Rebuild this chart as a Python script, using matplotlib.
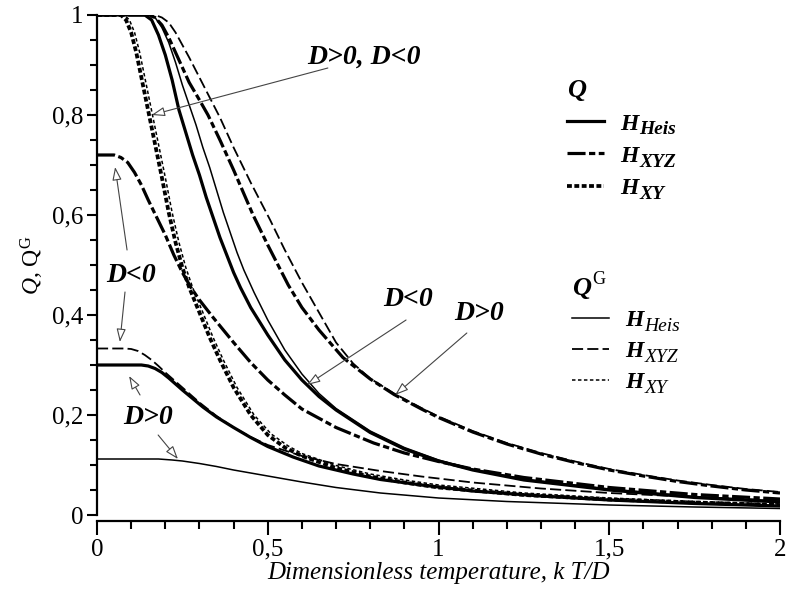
import numpy as np
import matplotlib
matplotlib.use('Agg')
import matplotlib.pyplot as plt
from matplotlib.lines import Line2D
from matplotlib.font_manager import FontProperties
from matplotlib.ticker import MultipleLocator, FuncFormatter

plt.rcParams['font.family'] = ['Liberation Serif', 'DejaVu Serif']
plt.rcParams['mathtext.fontset'] = 'custom'
plt.rcParams['mathtext.rm'] = 'Liberation Serif'
plt.rcParams['mathtext.it'] = 'Liberation Serif:italic'
plt.rcParams['lines.scale_dashes'] = False

# ---- data (x = kT/D) ----
# Heisenberg, D<0 : Q and Q^G both start at 1
heis_neg_q_x = [0, 0.14, 0.16, 0.18, 0.2, 0.22, 0.24, 0.26, 0.28, 0.3, 0.32, 0.34, 0.36, 0.38, 0.4, 0.42, 0.45, 0.5,
                0.55, 0.6, 0.65, 0.7, 0.8, 0.9, 1.0, 1.1, 1.25, 1.5, 1.75, 2.0]
heis_neg_q_y = [1, 1, 0.99, 0.96, 0.92, 0.87, 0.81, 0.765, 0.72, 0.68, 0.635, 0.595, 0.555, 0.52, 0.485, 0.455, 0.415,
                0.36, 0.31, 0.27, 0.237, 0.21, 0.165, 0.132, 0.108, 0.09, 0.07, 0.05, 0.035, 0.026]
heis_neg_qg_x = [0, 0.15, 0.17, 0.19, 0.21, 0.23, 0.25, 0.27, 0.29, 0.31, 0.33, 0.35, 0.37, 0.39, 0.41, 0.43, 0.46,
                 0.5, 0.55, 0.6, 0.65, 0.7, 0.8, 0.9, 1.0, 1.1, 1.25, 1.5, 1.75, 2.0]
heis_neg_qg_y = [1, 1, 0.995, 0.975, 0.945, 0.905, 0.86, 0.82, 0.78, 0.735, 0.695, 0.65, 0.605, 0.565, 0.525, 0.49,
                 0.445, 0.39, 0.33, 0.282, 0.243, 0.213, 0.168, 0.135, 0.11, 0.092, 0.072, 0.052, 0.037, 0.028]
# Heisenberg, D>0
heis_pos_q_x = [0, 0.13, 0.15, 0.17, 0.19, 0.21, 0.23, 0.25, 0.28, 0.31, 0.35, 0.4, 0.45, 0.5, 0.574, 0.65, 0.75,
                0.83, 0.95, 1.1, 1.3, 1.5, 1.75, 2.0]
heis_pos_q_y = [0.3, 0.3, 0.298, 0.293, 0.285, 0.274, 0.262, 0.25, 0.233, 0.216, 0.196, 0.175, 0.155, 0.137, 0.116,
                0.098, 0.082, 0.071, 0.06, 0.048, 0.038, 0.03, 0.023, 0.018]
heis_pos_qg_x = [0, 0.18, 0.22, 0.25, 0.3, 0.35, 0.4, 0.5, 0.6, 0.7, 0.83, 1.0, 1.2, 1.5, 1.75, 2.0]
heis_pos_qg_y = [0.112, 0.112, 0.11, 0.108, 0.103, 0.097, 0.09, 0.078, 0.066, 0.055, 0.044, 0.034, 0.027, 0.02,
                 0.016, 0.013]

# XYZ, D>0 : both start at 1
xyz_pos_q_x = [0, 0.15, 0.17, 0.19, 0.21, 0.23, 0.25, 0.27, 0.3, 0.325, 0.36, 0.4, 0.457, 0.5, 0.56, 0.6, 0.65,
               0.72, 0.8, 0.87, 0.95, 1.0, 1.1, 1.2, 1.3, 1.4, 1.5, 1.6, 1.7, 1.8, 1.9, 2.0]
xyz_pos_q_y = [1, 1, 0.995, 0.98, 0.955, 0.925, 0.895, 0.865, 0.83, 0.8, 0.75, 0.69, 0.6, 0.54, 0.46, 0.415, 0.37,
               0.315, 0.272, 0.241, 0.212, 0.195, 0.166, 0.142, 0.122, 0.105, 0.09, 0.078, 0.067, 0.058, 0.05, 0.044]
xyz_pos_qg_x = [0, 0.17, 0.19, 0.21, 0.23, 0.25, 0.27, 0.3, 0.33, 0.36, 0.4, 0.45, 0.507, 0.55, 0.6, 0.65, 0.7,
                0.75, 0.8, 0.87, 0.95, 1.0, 1.1, 1.2, 1.3, 1.4, 1.5, 1.6, 1.7, 1.8, 1.9, 2.0]
xyz_pos_qg_y = [1, 1, 0.995, 0.985, 0.965, 0.94, 0.915, 0.875, 0.835, 0.795, 0.735, 0.665, 0.59, 0.53, 0.465, 0.405,
                0.345, 0.303, 0.273, 0.243, 0.214, 0.197, 0.168, 0.144, 0.124, 0.107, 0.092, 0.08, 0.069, 0.06,
                0.052, 0.046]
# XYZ, D<0
xyz_neg_q_x = [0, 0.05, 0.07, 0.09, 0.11, 0.13, 0.15, 0.175, 0.2, 0.225, 0.25, 0.275, 0.3, 0.34, 0.4, 0.45, 0.5,
               0.55, 0.6, 0.7, 0.81, 0.9, 1.0, 1.1, 1.25, 1.5, 1.75, 2.0]
xyz_neg_q_y = [0.72, 0.72, 0.715, 0.705, 0.685, 0.66, 0.63, 0.595, 0.56, 0.52, 0.485, 0.455, 0.43, 0.395, 0.345,
               0.305, 0.27, 0.24, 0.212, 0.175, 0.144, 0.124, 0.107, 0.092, 0.075, 0.055, 0.041, 0.032]
xyz_neg_qg_x = [0, 0.08, 0.1, 0.12, 0.14, 0.16, 0.18, 0.2, 0.25, 0.3, 0.35, 0.4, 0.45, 0.5, 0.6, 0.7, 0.83, 0.95,
                1.1, 1.3, 1.5, 1.75, 2.0]
xyz_neg_qg_y = [0.333, 0.333, 0.332, 0.328, 0.32, 0.31, 0.298, 0.285, 0.255, 0.225, 0.198, 0.175, 0.156, 0.14, 0.118,
                0.102, 0.088, 0.077, 0.065, 0.053, 0.044, 0.036, 0.029]

# XY (D>0 and D<0 coincide)
xy_q_x = [0, 0.07, 0.085, 0.1, 0.115, 0.13, 0.145, 0.16, 0.175, 0.19, 0.21, 0.23, 0.25, 0.27, 0.3, 0.33, 0.36, 0.4,
          0.45, 0.5, 0.55, 0.6, 0.7, 0.8, 0.9, 1.0, 1.25, 1.5, 1.75, 2.0]
xy_q_y = [1, 1, 0.99, 0.965, 0.925, 0.875, 0.825, 0.775, 0.725, 0.675, 0.605, 0.545, 0.495, 0.455, 0.405, 0.355,
          0.31, 0.255, 0.2, 0.16, 0.135, 0.118, 0.094, 0.077, 0.065, 0.055, 0.04, 0.031, 0.025, 0.02]
xy_qg_x = [0, 0.08, 0.095, 0.11, 0.125, 0.14, 0.155, 0.17, 0.185, 0.2, 0.22, 0.24, 0.26, 0.28, 0.31, 0.34, 0.37,
           0.41, 0.46, 0.51, 0.56, 0.6, 0.7, 0.8, 0.9, 1.0, 1.25, 1.5, 1.75, 2.0]
xy_qg_y = [1, 1, 0.99, 0.965, 0.925, 0.875, 0.825, 0.775, 0.725, 0.675, 0.605, 0.545, 0.495, 0.455, 0.405, 0.355,
           0.31, 0.255, 0.2, 0.162, 0.138, 0.123, 0.099, 0.082, 0.07, 0.06, 0.044, 0.034, 0.027, 0.022]

# ---- styles ----
thick = 2.3
thin = 1.1
st_heis_q = dict(color='black', lw=thick, ls='-')
st_xyz_q = dict(color='black', lw=thick, ls=(0, (13, 2.5, 4.5, 2.5)))
st_xy_q = dict(color='black', lw=thick + 0.4, ls=(0, (3.5, 1.8)))
st_heis_qg = dict(color='black', lw=thin, ls='-')
st_xyz_qg = dict(color='black', lw=thin + 0.2, ls=(0, (8, 3)))
st_xy_qg = dict(color='black', lw=thin, ls=(0, (2.5, 1.8)))

W, H = 786, 596
fig = plt.figure(figsize=(W / 100, H / 100), dpi=100)
ax = fig.add_axes([97 / W, 1 - 515 / H, (780 - 97) / W, 500 / H])

ax.plot(xy_q_x, xy_q_y, **st_xy_q)
ax.plot(xy_qg_x, xy_qg_y, **st_xy_qg)
ax.plot(heis_neg_q_x, heis_neg_q_y, **st_heis_q)
ax.plot(heis_neg_qg_x, heis_neg_qg_y, **st_heis_qg)
ax.plot(heis_pos_q_x, heis_pos_q_y, **st_heis_q)
ax.plot(heis_pos_qg_x, heis_pos_qg_y, **st_heis_qg)
ax.plot(xyz_pos_q_x, xyz_pos_q_y, **st_xyz_q)
ax.plot(xyz_pos_qg_x, xyz_pos_qg_y, **st_xyz_qg)
ax.plot(xyz_neg_q_x, xyz_neg_q_y, **st_xyz_q)
ax.plot(xyz_neg_qg_x, xyz_neg_qg_y, **st_xyz_qg)

ax.set_xlim(0, 2)
ax.set_ylim(0, 1)
for s in ['top', 'right']:
    ax.spines[s].set_visible(False)
ax.spines['bottom'].set_position(('outward', 4))
ax.spines['left'].set_linewidth(1.6)
ax.spines['bottom'].set_linewidth(1.6)

ax.xaxis.set_major_locator(MultipleLocator(0.5))
ax.xaxis.set_minor_locator(MultipleLocator(0.1))
ax.yaxis.set_major_locator(MultipleLocator(0.2))
ax.yaxis.set_minor_locator(MultipleLocator(0.05))
comma = FuncFormatter(lambda v, p: ('%g' % round(v, 2)).replace('.', ','))
ax.xaxis.set_major_formatter(comma)
ax.yaxis.set_major_formatter(comma)
ax.tick_params(axis='x', which='major', length=10, width=1.5, labelsize=18, pad=3)
ax.tick_params(axis='x', which='minor', length=5.5, width=1.5)
ax.tick_params(axis='y', which='major', length=7, width=1.5, labelsize=18, pad=3)
ax.tick_params(axis='y', which='minor', length=5, width=1.5)

ax.set_xlabel('Dimensionless temperature, k T/D', fontsize=18, style='italic', labelpad=1)
ax.set_ylabel(r'$Q$, Q$^{\rm G}$', fontsize=17, labelpad=4)

# ---- annotations ----
lab = dict(fontsize=20, fontweight='bold', style='italic', va='center')
arr = dict(arrowstyle='-|>,head_length=0.8,head_width=0.28', fc='white', ec='#444444', lw=0.8,
           shrinkA=0, shrinkB=0)
ax.text(0.615, 0.916, 'D>0, D<0', ha='left', **lab)
ax.annotate('', xy=(0.16, 0.8), xytext=(0.676, 0.894), arrowprops=arr)
ax.text(0.1, 0.48, 'D<0', ha='center', **lab)
ax.annotate('', xy=(0.053, 0.696), xytext=(0.088, 0.53), arrowprops=arr)
ax.annotate('', xy=(0.067, 0.346), xytext=(0.082, 0.446), arrowprops=arr)
ax.text(0.149, 0.196, 'D>0', ha='center', **lab)
ax.annotate('', xy=(0.094, 0.278), xytext=(0.126, 0.24), arrowprops=arr)
ax.annotate('', xy=(0.237, 0.112), xytext=(0.179, 0.16), arrowprops=arr)
ax.text(0.911, 0.432, 'D<0', ha='center', **lab)
ax.annotate('', xy=(0.615, 0.26), xytext=(0.905, 0.39), arrowprops=arr)
ax.text(1.12, 0.404, 'D>0', ha='center', **lab)
ax.annotate('', xy=(0.873, 0.24), xytext=(1.083, 0.364), arrowprops=arr)

# ---- legends (H with subscripts added afterwards) ----
bi = FontProperties(family='Liberation Serif', weight='bold', style='italic', size=17)
bi_t = FontProperties(family='Liberation Serif', weight='bold', style='italic', size=19)
subs = ['Heis', 'XYZ', 'XY']

h_q = [Line2D([], [], **st_heis_q), Line2D([], [], **st_xyz_q), Line2D([], [], **st_xy_q)]
h_g = [Line2D([], [], **st_heis_qg), Line2D([], [], **st_xyz_qg), Line2D([], [], **st_xy_qg)]

leg1 = ax.legend(h_q, ['H'] * 3, title='Q', loc='upper left', prop=bi, title_fontproperties=bi_t,
                 bbox_to_anchor=(558 / W, 1 - 70 / H), bbox_transform=fig.transFigure,
                 frameon=False, handlelength=1.55, handletextpad=0.7, labelspacing=0.45,
                 alignment='left', borderaxespad=0)
ax.add_artist(leg1)
leg2 = ax.legend(h_g, ['H'] * 3, title='Q', loc='upper left', prop=bi, title_fontproperties=bi_t,
                 bbox_to_anchor=(563 / W, 1 - 268 / H), bbox_transform=fig.transFigure,
                 frameon=False, handlelength=1.55, handletextpad=0.7, labelspacing=0.4,
                 alignment='left', borderaxespad=0)

fig.canvas.draw()
r = fig.canvas.get_renderer()
for leg, sub_w in [(leg1, 'bold'), (leg2, 'normal')]:
    for t, s in zip(leg.get_texts(), subs):
        bb = t.get_window_extent(r)
        base = bb.y0 + 0.216 * 17 * 100 / 72
        fig.text((bb.x1 + 0.5) / W, (base - 5) / H, s, fontsize=14, style='italic', weight=sub_w,
                 va='baseline', ha='left')
bb = leg2.get_title().get_window_extent(r)
base = bb.y0 + 0.216 * 19 * 100 / 72
fig.text((bb.x1 + 0.5) / W, (base + 11) / H, 'G', fontsize=13, va='baseline', ha='left')

fig.savefig('out.png', dpi=100)
